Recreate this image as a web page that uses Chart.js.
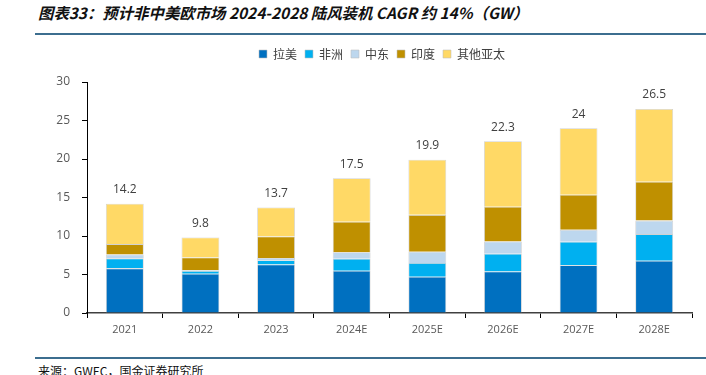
<!DOCTYPE html>
<html>
<head>
<meta charset="utf-8">
<script src="https://cdn.jsdelivr.net/npm/chart.js@4/dist/chart.umd.min.js"></script>
<style>
  html, body { margin:0; padding:0; background:#fff; width:706px; height:375px; overflow:hidden; }
  #title { position:absolute; left:38px; top:1px; font-family:"Noto Sans CJK SC", sans-serif; font-weight:bold; font-style:italic; font-size:15.4px; color:#111; white-space:nowrap; }
  #tline { position:absolute; left:35px; top:33px; width:671px; height:2px; background:#3C6E8F; }
  #fline { position:absolute; left:35px; top:357px; width:671px; height:2px; background:#3C6E8F; }
  #foot { position:absolute; left:38px; top:362px; font-family:"Noto Sans CJK SC", sans-serif; font-size:12px; color:#111; white-space:nowrap; }
  #wrap { position:absolute; left:0; top:40px; width:706px; height:303px; }
</style>
</head>
<body>
<div id="title">图表33：预计非中美欧市场 2024-2028 陆风装机 CAGR 约 14%（GW）</div>
<div id="tline"></div>
<div id="wrap"><canvas id="c"></canvas></div>
<div id="fline"></div>
<div id="foot">来源：GWEC，国金证券研究所</div>
<script>
const categories = ["2021","2022","2023","2024E","2025E","2026E","2027E","2028E"];
const latam      = [5.8, 5.1, 6.3, 5.5, 4.7, 5.4, 6.2, 6.8];
const africa     = [1.3, 0.35, 0.55, 1.55, 1.8, 2.3, 3.05, 3.45];
const mideast    = [0.5, 0.1, 0.3, 0.85, 1.45, 1.6, 1.55, 1.75];
const india      = [1.35, 1.65, 2.8, 3.95, 4.8, 4.5, 4.55, 5.05];
const otherApac  = [5.25, 2.6, 3.75, 5.65, 7.15, 8.5, 8.65, 9.45];
const totals     = [14.2, 9.8, 13.7, 17.5, 19.9, 22.3, 24, 26.5];
const yTicks     = [0, 5, 10, 15, 20, 25, 30];

const seriesNames = ["拉美","非洲","中东","印度","其他亚太"];
const seriesData = [latam, africa, mideast, india, otherApac];
const colors = ["#0070C0","#00B0F0","#BDD7EE","#BF9000","#FFD966"];

const totalLabels = {
  id: 'totalLabels',
  afterDatasetsDraw(chart) {
    const ctx = chart.ctx;
    const x = chart.scales.x, y = chart.scales.y;
    ctx.save();
    ctx.font = '12px "Open Sans", "Noto Sans", sans-serif';
    ctx.fillStyle = '#404040';
    ctx.textAlign = 'center';
    ctx.textBaseline = 'bottom';
    totals.forEach((t, i) => {
      ctx.fillText(String(t), x.getPixelForValue(i), y.getPixelForValue(t) - 8);
    });
    ctx.restore();
  }
};

const legendTweak = {
  id: 'legendTweak',
  afterInit(chart) {
    const lg = chart.legend;
    if (lg) {
      const orig = lg.fit;
      lg.fit = function () { orig.call(this); this.height += 12; };
    }
  },
  afterLayout(chart) {
    const lg = chart.legend;
    if (lg) { lg.left += 36; lg.right += 36; }
  }
};

new Chart(document.getElementById('c'), {
  type: 'bar',
  data: {
    labels: categories,
    datasets: seriesNames.map((n, i) => ({
      label: n,
      data: seriesData[i],
      backgroundColor: colors[i],
      borderColor: 'rgba(190,190,190,0.7)',
      borderWidth: 0.8,
      categoryPercentage: 0.5,
      barPercentage: 1.0
    }))
  },
  options: {
    responsive: true,
    maintainAspectRatio: false,
    animation: false,
    layout: { padding: { left: 0, right: 14, top: 0, bottom: 0 } },
    plugins: {
      legend: {
        position: 'top',
        labels: {
          boxWidth: 8, boxHeight: 8, padding: 8,
          color: '#404040',
          font: { size: 12, family: '"Noto Sans CJK SC", sans-serif' }
        }
      },
      tooltip: { enabled: false }
    },
    scales: {
      x: {
        stacked: true,
        offset: true,
        grid: { display: true, drawOnChartArea: false, offset: true, color: '#000', tickLength: 5, tickColor: '#000' },
        border: { display: true, color: '#404040', width: 1.5 },
        ticks: { color: '#595959', font: { size: 11, family: '"Open Sans", sans-serif' }, padding: 5 },
        afterFit(s) { s.height = 30; }
      },
      y: {
        stacked: true,
        min: 0, max: 30,
        afterBuildTicks(s) { s.ticks = yTicks.map(v => ({ value: v })); },
        grid: { display: true, drawOnChartArea: false, color: '#000', tickLength: 5, tickColor: '#000' },
        border: { display: true, color: '#000', width: 1 },
        ticks: { color: '#595959', font: { size: 12, family: '"Open Sans", sans-serif' }, padding: 12 },
        afterFit(s) { s.width = 87; }
      }
    }
  },
  plugins: [totalLabels, legendTweak]
});
</script>
</body>
</html>
